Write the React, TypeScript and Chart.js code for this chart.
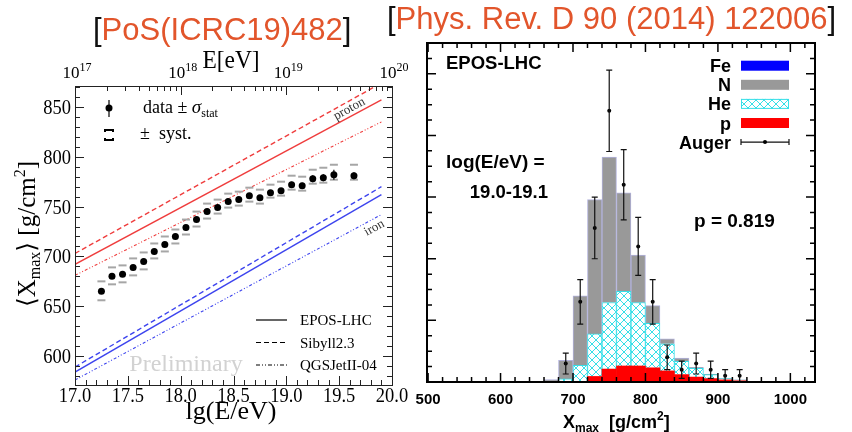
import React, { useEffect, useRef } from "react";
import { Chart, registerables } from "chart.js";

Chart.register(...registerables);

const SERIF = '"Liberation Serif", "Times New Roman", "DejaVu Serif", serif';
const SANS = '"Liberation Sans", Arial, sans-serif';
const ORANGE = "#e2552b";
const RED = "#ef3d3d";
const BLUE = "#3d44ee";

/* ---------- left panel: <Xmax> versus lg(E/eV) ---------- */
const lgEnergy = [17.25, 17.35, 17.45, 17.55, 17.65, 17.75, 17.85, 17.95, 18.05, 18.15, 18.25, 18.35, 18.45, 18.55, 18.65, 18.75, 18.85, 18.95, 19.05, 19.15, 19.25, 19.35, 19.45, 19.64];
const meanXmax = [665, 680, 682, 689, 695, 705, 712, 720, 729, 737, 745, 749, 755, 757, 761, 759, 764, 766, 772, 771, 778, 779, 782, 781];
const statErr = [2, 1.5, 1.5, 1.5, 1.5, 1.5, 1.5, 1.5, 1.5, 1.5, 1.5, 1.5, 2, 2, 2, 2, 2, 2.5, 3, 3, 3.5, 3.5, 5, 3.5];
const systUp = [10, 9, 9, 9, 9, 8, 8, 7, 8, 8, 8, 8, 8, 8, 8, 8, 8, 9, 9, 9, 9, 10, 10, 11];
const systDown = [9, 8, 8, 8, 8, 7, 7, 7, 7, 7, 7, 6, 6, 6, 6, 6, 5, 5, 5, 5, 5, 5, 5, 4];

const modelLgE = [17.0, 19.9];
const protonEpos = [692, 857];
const protonSibyll = [703, 874];
const protonQgsjet = [681, 835];
const ironEpos = [584, 762];
const ironSibyll = [589, 770];
const ironQgsjet = [576, 742];

const lgTickLabels = ["17.0", "17.5", "18.0", "18.5", "19.0", "19.5", "20.0"];
const xmaxTickLabels = ["600", "650", "700", "750", "800", "850"];
const energyExponents = ["17", "18", "19", "20"];

/* ---------- right panel: Xmax distribution, lg(E/eV) = 19.0-19.1 ---------- */
const binCenters = [650, 670, 690, 710, 730, 750, 770, 790, 810, 830, 850, 870, 890, 910, 930, 950];
const countsP = [0, 0, 0, 0, 0.9, 2.1, 2.6, 2.6, 2.3, 1.8, 1.2, 0.8, 0.55, 0.35, 0.2, 0.05];
const countsHe = [0, 0.1, 0.5, 2.7, 6.9, 10.8, 12.1, 10.3, 7.2, 4.4, 2.15, 1.4, 0.65, 0.2, 0.1, 0.05];
const countsN = [0.1, 0.3, 3.0, 11.3, 21.8, 23.6, 16.0, 7.7, 2.9, 0.8, 0.55, 0.2, 0.1, 0.05, 0.05, 0];
const countsFe = [0, 0, 0, 0, 0, 0, 0, 0, 0, 0, 0, 0, 0, 0, 0, 0];
const augerXmax = [690, 710, 730, 750, 770, 790, 810, 830, 850, 870, 890, 910, 930];
const augerCounts = [3, 13, 25, 44, 32, 22, 13, 4, 2, 3, 2, 1, 1];
const augerErr = [1.7, 3.6, 5.0, 6.6, 5.7, 4.7, 3.6, 2.0, 1.4, 1.7, 1.4, 1.0, 1.0];
const xmaxAxisLabels = ["500", "600", "700", "800", "900", "1000"];

type Run = { t: string; size: number; dy?: number; style?: string; color?: string };
type RunOpts = { family: string; weight?: string; align?: "left" | "center" | "right"; sx?: number; color?: string; angle?: number };

function fontOf(r: Run, o: RunOpts) {
  return `${r.style ?? "normal"} ${o.weight ?? "normal"} ${r.size}px ${o.family}`;
}

function drawRuns(ctx: CanvasRenderingContext2D, runs: Run[], x: number, y: number, o: RunOpts) {
  ctx.save();
  const sx = o.sx ?? 1;
  let w = 0;
  for (const r of runs) {
    ctx.font = fontOf(r, o);
    w += ctx.measureText(r.t).width;
  }
  ctx.translate(x, y);
  if (o.angle) ctx.rotate(o.angle);
  const align = o.align ?? "left";
  const x0 = align === "center" ? (-w * sx) / 2 : align === "right" ? -w * sx : 0;
  ctx.translate(x0, 0);
  ctx.scale(sx, 1);
  ctx.textAlign = "left";
  ctx.textBaseline = "alphabetic";
  let cx = 0;
  for (const r of runs) {
    ctx.font = fontOf(r, o);
    ctx.fillStyle = r.color ?? o.color ?? "#000";
    ctx.fillText(r.t, cx, r.dy ?? 0);
    cx += ctx.measureText(r.t).width;
  }
  ctx.restore();
}

function seg(ctx: CanvasRenderingContext2D, x1: number, y1: number, x2: number, y2: number) {
  ctx.moveTo(x1, y1);
  ctx.lineTo(x2, y2);
}

function makeHatch(): CanvasPattern | string {
  const c = document.createElement("canvas");
  c.width = 8;
  c.height = 8;
  const g = c.getContext("2d");
  if (!g) return "#bff";
  g.fillStyle = "#ffffff";
  g.fillRect(0, 0, 8, 8);
  g.strokeStyle = "#36dfe8";
  g.lineWidth = 1;
  g.beginPath();
  g.moveTo(-1, -1);
  g.lineTo(9, 9);
  g.moveTo(9, -1);
  g.lineTo(-1, 9);
  g.stroke();
  return g.createPattern(c, "repeat") ?? "#bff";
}

const pts = (xs: number[], ys: number[]) => xs.map((x, i) => ({ x, y: ys[i] }));

/* ---------- decorations for the <Xmax> panel ---------- */
const leftDecor = {
  id: "leftDecor",
  beforeDatasetsDraw(chart: any) {
    drawRuns(chart.ctx, [{ t: "Preliminary", size: 24 }], 186, 371, { family: SERIF, color: "#d2d2d2", align: "center" });
  },
  afterDatasetsDraw(chart: any) {
    const ctx: CanvasRenderingContext2D = chart.ctx;
    const xs = chart.scales.x;
    const ys = chart.scales.y;
    ctx.save();
    ctx.strokeStyle = "#000";
    ctx.lineWidth = 1.2;
    ctx.beginPath();
    lgEnergy.forEach((e, i) => {
      const px = xs.getPixelForValue(e);
      seg(ctx, px, ys.getPixelForValue(meanXmax[i] - statErr[i]), px, ys.getPixelForValue(meanXmax[i] + statErr[i]));
    });
    ctx.stroke();
    ctx.restore();
  },
  afterDraw(chart: any) {
    const ctx: CanvasRenderingContext2D = chart.ctx;
    const { left, right, top, bottom } = chart.chartArea;
    const xs = chart.scales.x;
    const xt = chart.scales.xTop;
    const ys = chart.scales.y;

    ctx.save();
    ctx.strokeStyle = "#222";
    ctx.lineWidth = 1;
    ctx.strokeRect(Math.round(left) + 0.5, Math.round(top) + 0.5, Math.round(right - left), Math.round(bottom - top));
    ctx.beginPath();
    for (let k = 0; k <= 30; k++) {
      const px = Math.round(xs.getPixelForValue(17 + k * 0.1)) + 0.5;
      seg(ctx, px, bottom, px, bottom - (k % 5 === 0 ? 9 : 5));
    }
    for (let e = 17; e <= 20; e++) {
      for (let m = 1; m < 10; m++) {
        const v = m * Math.pow(10, e);
        if (v > 1e20) break;
        const px = Math.round(xt.getPixelForValue(v)) + 0.5;
        seg(ctx, px, top, px, top + (m === 1 ? 9 : 5));
      }
    }
    for (let v = 580; v <= 870; v += 10) {
      const py = Math.round(ys.getPixelForValue(v)) + 0.5;
      const len = v % 50 === 0 ? 9 : 5;
      seg(ctx, left, py, left + len, py);
      seg(ctx, right, py, right - len, py);
    }
    ctx.stroke();
    ctx.restore();

    // tick labels
    lgTickLabels.forEach((l) => {
      drawRuns(ctx, [{ t: l, size: 21 }], xs.getPixelForValue(parseFloat(l)), 402, { family: SERIF, align: "center", sx: 0.88 });
    });
    xmaxTickLabels.forEach((l) => {
      drawRuns(ctx, [{ t: l, size: 21 }], left - 4, ys.getPixelForValue(parseFloat(l)) + 7, { family: SERIF, align: "right", sx: 0.88 });
    });
    energyExponents.forEach((ex) => {
      const px = xt.getPixelForValue(Math.pow(10, Number(ex)));
      drawRuns(ctx, [{ t: "10", size: 17 }, { t: ex, size: 12, dy: -7 }], px + 2, 78, { family: SERIF, align: "center" });
    });

    // axis titles
    drawRuns(ctx, [{ t: "E[eV]", size: 26 }], 231, 68, { family: SERIF, align: "center", sx: 0.9 });
    drawRuns(ctx, [{ t: "lg(E/eV)", size: 26 }], 231, 419, { family: SERIF, align: "center" });
    drawRuns(
      ctx,
      [
        { t: "\u27E8X", size: 25 },
        { t: "max", size: 16, dy: 5 },
        { t: "\u27E9 [g/cm", size: 25 },
        { t: "2", size: 16, dy: -10 },
        { t: "]", size: 25 },
      ],
      35,
      234,
      { family: SERIF, align: "center", angle: -Math.PI / 2 }
    );

    // legend: data and systematics
    ctx.save();
    ctx.fillStyle = "#000";
    ctx.strokeStyle = "#000";
    ctx.beginPath();
    ctx.arc(109, 108, 3.5, 0, Math.PI * 2);
    ctx.fill();
    ctx.lineWidth = 1.2;
    ctx.beginPath();
    seg(ctx, 109, 100, 109, 117);
    ctx.stroke();
    ctx.lineWidth = 2;
    ctx.beginPath();
    seg(ctx, 105, 130, 113, 130);
    seg(ctx, 105, 140, 113, 140);
    seg(ctx, 105, 129, 105, 132);
    seg(ctx, 113, 129, 113, 132);
    seg(ctx, 105, 141, 105, 138);
    seg(ctx, 113, 141, 113, 138);
    ctx.stroke();
    ctx.restore();
    drawRuns(
      ctx,
      [
        { t: "data \u00B1 ", size: 18 },
        { t: "\u03C3", size: 19, style: "italic" },
        { t: "stat", size: 12, dy: 4 },
      ],
      143,
      113,
      { family: SERIF }
    );
    drawRuns(ctx, [{ t: "\u00B1  syst.", size: 18 }], 140, 139, { family: SERIF });

    // legend: interaction models
    const rows: [string, number[]][] = [
      ["EPOS-LHC", []],
      ["Sibyll2.3", [5, 3]],
      ["QGSJetII-04", [4, 2, 1, 2, 1, 2]],
    ];
    rows.forEach(([name, dash], i) => {
      const y = 320 + i * 22.5;
      ctx.save();
      ctx.strokeStyle = "#000";
      ctx.lineWidth = 1.2;
      ctx.setLineDash(dash);
      ctx.beginPath();
      seg(ctx, 256, y, 287, y);
      ctx.stroke();
      ctx.restore();
      drawRuns(ctx, [{ t: name, size: 15 }], 300, y + 5, { family: SERIF });
    });

    // primary labels along the model lines
    const ang = Math.atan2(
      ys.getPixelForValue(protonSibyll[1]) - ys.getPixelForValue(protonSibyll[0]),
      xs.getPixelForValue(modelLgE[1]) - xs.getPixelForValue(modelLgE[0])
    );
    drawRuns(ctx, [{ t: "proton", size: 13 }], 351, 112, { family: SERIF, color: "#333", align: "center", angle: ang });
    drawRuns(ctx, [{ t: "iron", size: 13 }], 376, 231, { family: SERIF, color: "#333", align: "center", angle: ang });

    // reference tag
    drawRuns(
      ctx,
      [
        { t: "[", size: 31, color: "#111" },
        { t: "PoS(ICRC19)482", size: 31, color: ORANGE },
        { t: "]", size: 31, color: "#111" },
      ],
      93,
      40,
      { family: SANS }
    );
  },
};

/* ---------- decorations for the Xmax distribution panel ---------- */
const rightDecor = {
  id: "rightDecor",
  afterDatasetsDraw(chart: any) {
    const ctx: CanvasRenderingContext2D = chart.ctx;
    const xs = chart.scales.x;
    const ys = chart.scales.y;
    ctx.save();
    ctx.strokeStyle = "#111";
    ctx.lineWidth = 1.2;
    ctx.beginPath();
    augerXmax.forEach((v, i) => {
      const px = xs.getPixelForValue(v);
      const y1 = ys.getPixelForValue(augerCounts[i] - augerErr[i]);
      const y2 = ys.getPixelForValue(augerCounts[i] + augerErr[i]);
      seg(ctx, px, y1, px, y2);
      seg(ctx, px - 3, y1, px + 3, y1);
      seg(ctx, px - 3, y2, px + 3, y2);
    });
    ctx.stroke();
    ctx.restore();
  },
  afterDraw(chart: any) {
    const ctx: CanvasRenderingContext2D = chart.ctx;
    const { left, right, top, bottom } = chart.chartArea;
    const xs = chart.scales.x;
    const ys = chart.scales.y;

    ctx.save();
    ctx.strokeStyle = "#000";
    ctx.lineWidth = 2;
    ctx.strokeRect(left, top, right - left, bottom - top);
    ctx.lineWidth = 1.5;
    ctx.beginPath();
    for (let v = 500; v <= 1020; v += 20) {
      const px = xs.getPixelForValue(v);
      const len = v % 100 === 0 ? 9 : 5;
      seg(ctx, px, bottom, px, bottom - len);
      seg(ctx, px, top, px, top + len);
    }
    for (let c = 0; c <= 55; c += 2.5) {
      const py = ys.getPixelForValue(c);
      const len = c % 10 === 0 ? 9 : 5;
      seg(ctx, left, py, left + len, py);
      seg(ctx, right, py, right - len, py);
    }
    ctx.stroke();
    ctx.restore();

    const B = { family: SANS, weight: "bold" };
    xmaxAxisLabels.forEach((l) => {
      drawRuns(ctx, [{ t: l, size: 15 }], xs.getPixelForValue(parseFloat(l)), 404, { ...B, align: "center" });
    });
    drawRuns(
      ctx,
      [
        { t: "X", size: 18 },
        { t: "max", size: 12, dy: 4 },
        { t: "  [g/cm", size: 18 },
        { t: "2", size: 12, dy: -8 },
        { t: "]", size: 18 },
      ],
      563,
      428,
      B
    );

    drawRuns(ctx, [{ t: "EPOS-LHC", size: 18.5 }], 446, 68.5, B);
    drawRuns(ctx, [{ t: "log(E/eV) =", size: 19 }], 446, 168, B);
    drawRuns(ctx, [{ t: "19.0-19.1", size: 18.5 }], 548, 198, { ...B, align: "right" });
    drawRuns(ctx, [{ t: "p = 0.819", size: 19 }], 694, 227, B);

    // legend
    const hatch = chart.$hatch;
    const names = ["Fe", "N", "He", "p", "Auger"];
    names.forEach((n, i) => {
      const cy = 65.7 + i * 19.1;
      drawRuns(ctx, [{ t: n, size: 18 }], 731, cy + 6.5, { ...B, align: "right" });
      ctx.save();
      if (i === 0) {
        ctx.fillStyle = "#0000ff";
        ctx.fillRect(741, cy - 5, 48, 10);
      } else if (i === 1) {
        ctx.fillStyle = "#999999";
        ctx.fillRect(741, cy - 5, 48, 10);
      } else if (i === 2) {
        ctx.fillStyle = hatch;
        ctx.fillRect(741, cy - 5, 48, 10);
        ctx.strokeStyle = "#36dfe8";
        ctx.lineWidth = 1;
        ctx.strokeRect(741.5, cy - 4.5, 47, 9);
      } else if (i === 3) {
        ctx.fillStyle = "#ff0000";
        ctx.fillRect(741, cy - 5, 48, 10);
      } else {
        ctx.strokeStyle = "#111";
        ctx.lineWidth = 1.2;
        ctx.beginPath();
        seg(ctx, 741, cy, 789, cy);
        seg(ctx, 741, cy - 3, 741, cy + 3);
        seg(ctx, 789, cy - 3, 789, cy + 3);
        ctx.stroke();
        ctx.fillStyle = "#000";
        ctx.beginPath();
        ctx.arc(765, cy, 2, 0, Math.PI * 2);
        ctx.fill();
      }
      ctx.restore();
    });

    drawRuns(
      ctx,
      [
        { t: "[", size: 31, color: "#111" },
        { t: "Phys. Rev. D 90 (2014) 122006", size: 31, color: ORANGE },
        { t: "]", size: 31, color: "#111" },
      ],
      387,
      29,
      { family: SANS }
    );
  },
};

function leftConfig(): any {
  const modelLine = (ys: number[], color: string, dash: number[], width: number) => ({
    data: pts(modelLgE, ys),
    showLine: true,
    borderColor: color,
    borderWidth: width,
    borderDash: dash,
    pointRadius: 0,
    order: 2,
  });
  return {
    type: "scatter",
    data: {
      datasets: [
        modelLine(protonEpos, RED, [], 1.4),
        modelLine(protonSibyll, RED, [5, 3], 1.4),
        modelLine(protonQgsjet, RED, [3, 2, 1, 2, 1, 2], 1.1),
        modelLine(ironEpos, BLUE, [], 1.4),
        modelLine(ironSibyll, BLUE, [5, 3], 1.4),
        modelLine(ironQgsjet, BLUE, [3, 2, 1, 2, 1, 2], 1.1),
        {
          data: pts(lgEnergy, meanXmax.map((m, i) => m + systUp[i])),
          pointStyle: "line",
          pointRadius: 4,
          pointBorderWidth: 2,
          pointBorderColor: "#a6a6a6",
          order: 1,
        },
        {
          data: pts(lgEnergy, meanXmax.map((m, i) => m - systDown[i])),
          pointStyle: "line",
          pointRadius: 4,
          pointBorderWidth: 2,
          pointBorderColor: "#a6a6a6",
          order: 1,
        },
        {
          data: pts(lgEnergy, meanXmax),
          pointRadius: 3.5,
          pointBackgroundColor: "#000",
          pointBorderColor: "#000",
          pointBorderWidth: 0,
          order: 0,
        },
      ],
    },
    options: {
      responsive: false,
      maintainAspectRatio: false,
      animation: false,
      devicePixelRatio: 1,
      events: [],
      layout: { padding: { left: 75, right: 460, top: 86, bottom: 47 } },
      plugins: { legend: { display: false }, tooltip: { enabled: false } },
      scales: {
        x: { type: "linear", min: 17, max: 20, display: false },
        xTop: { type: "logarithmic", position: "top", min: 1e17, max: 1e20, display: false },
        y: { type: "linear", min: 571, max: 871, display: false },
      },
    },
    plugins: [leftDecor],
  };
}

function rightConfig(hatch: CanvasPattern | string): any {
  const bars = (ys: number[], bg: any, border: string, bw: number) => ({
    type: "bar",
    data: pts(binCenters, ys).map((p) => ({ x: p.x, y: p.y > 0 ? p.y : null })),
    backgroundColor: bg,
    borderColor: border,
    borderWidth: bw,
    barPercentage: 1,
    categoryPercentage: 1,
    order: 1,
  });
  return {
    type: "bar",
    data: {
      datasets: [
        bars(countsP, "#ff0000", "#ff0000", 0),
        bars(countsHe, hatch, "#36dfe8", 1),
        bars(countsN, "#999999", "#b2b2dc", 1),
        bars(countsFe, "#0000ff", "#0000ff", 0),
        {
          type: "scatter",
          data: pts(augerXmax, augerCounts),
          pointRadius: 2,
          pointBackgroundColor: "#000",
          pointBorderWidth: 0,
          order: -1,
        },
      ],
    },
    options: {
      responsive: false,
      maintainAspectRatio: false,
      animation: false,
      devicePixelRatio: 1,
      events: [],
      layout: { padding: { left: 427, right: 37, top: 43, bottom: 50 } },
      plugins: { legend: { display: false }, tooltip: { enabled: false } },
      scales: {
        x: {
          type: "linear",
          min: 498.5,
          max: 1034,
          stacked: true,
          offset: false,
          display: false,
          ticks: { stepSize: 20, includeBounds: false },
        },
        y: { type: "linear", min: 0, max: 55, stacked: true, display: false },
      },
    },
    plugins: [rightDecor],
  };
}

export default function App() {
  const leftRef = useRef<HTMLCanvasElement>(null);
  const rightRef = useRef<HTMLCanvasElement>(null);

  useEffect(() => {
    if (!leftRef.current || !rightRef.current) return;
    const hatch = makeHatch();
    const left = new Chart(leftRef.current, leftConfig());
    const right = new Chart(rightRef.current, rightConfig(hatch));
    (right as any).$hatch = hatch;
    right.draw();
    return () => {
      left.destroy();
      right.destroy();
    };
  }, []);

  const canvasStyle: React.CSSProperties = { position: "absolute", left: 0, top: 0, width: 852, height: 432 };
  return (
    <div style={{ position: "fixed", left: 0, top: 0, width: 852, height: 432, background: "#fff", overflow: "hidden" }}>
      <canvas ref={leftRef} width={852} height={432} style={canvasStyle} />
      <canvas ref={rightRef} width={852} height={432} style={canvasStyle} />
    </div>
  );
}
